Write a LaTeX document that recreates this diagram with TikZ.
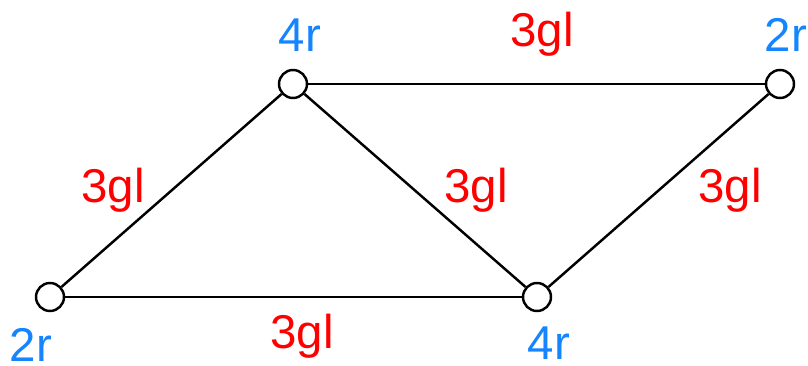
\documentclass[tikz,border=0pt]{standalone}
\usepackage{fontspec}
\setmainfont{Liberation Sans}
\usepackage{tikz}
\usetikzlibrary{positioning}
\definecolor{vertblue}{RGB}{20, 132, 255}
\definecolor{edgered}{RGB}{255, 0, 0}

\begin{document}
\begin{tikzpicture}[
    vert/.style={circle, draw=black, fill=white, line width=1.4pt, inner sep=0pt, minimum size=0.56cm},
    edge/.style={line width=1.4pt},
    rlab/.style={text=vertblue, font=\fontsize{27}{30}\selectfont, inner sep=0pt, anchor=base},
    glab/.style={text=edgered, font=\fontsize{27}{30}\selectfont, inner sep=0pt, anchor=base}
  ]
  \useasboundingbox (0,0) rectangle (16.16,7.3);

  % vertices
  \node[vert] (a) at (1.0,1.36) {};
  \node[vert] (b) at (5.86,5.62) {};
  \node[vert] (c) at (15.6,5.62) {};
  \node[vert] (d) at (10.74,1.36) {};

  % edges
  \draw[edge] (a) -- (b);
  \draw[edge] (b) -- (c);
  \draw[edge] (b) -- (d);
  \draw[edge] (c) -- (d);
  \draw[edge] (a) -- (d);

  % vertex labels
  \node[rlab] (la) at (0.62,0.08) {2r};
  \node[rlab] (lb) at (6.0,6.26) {4r};
  \node[rlab] (lc) at (15.72,6.26) {2r};
  \node[rlab] (ld) at (10.98,0.1) {4r};

  % edge labels
  \node[glab] (gab) at (2.26,3.26) {3gl};
  \node[glab] (gbc) at (10.84,6.36) {3gl};
  \node[glab] (gbd) at (9.52,3.24) {3gl};
  \node[glab] (gcd) at (14.6,3.26) {3gl};
  \node[glab] (gad) at (6.04,0.34) {3gl};
\end{tikzpicture}
\end{document}
